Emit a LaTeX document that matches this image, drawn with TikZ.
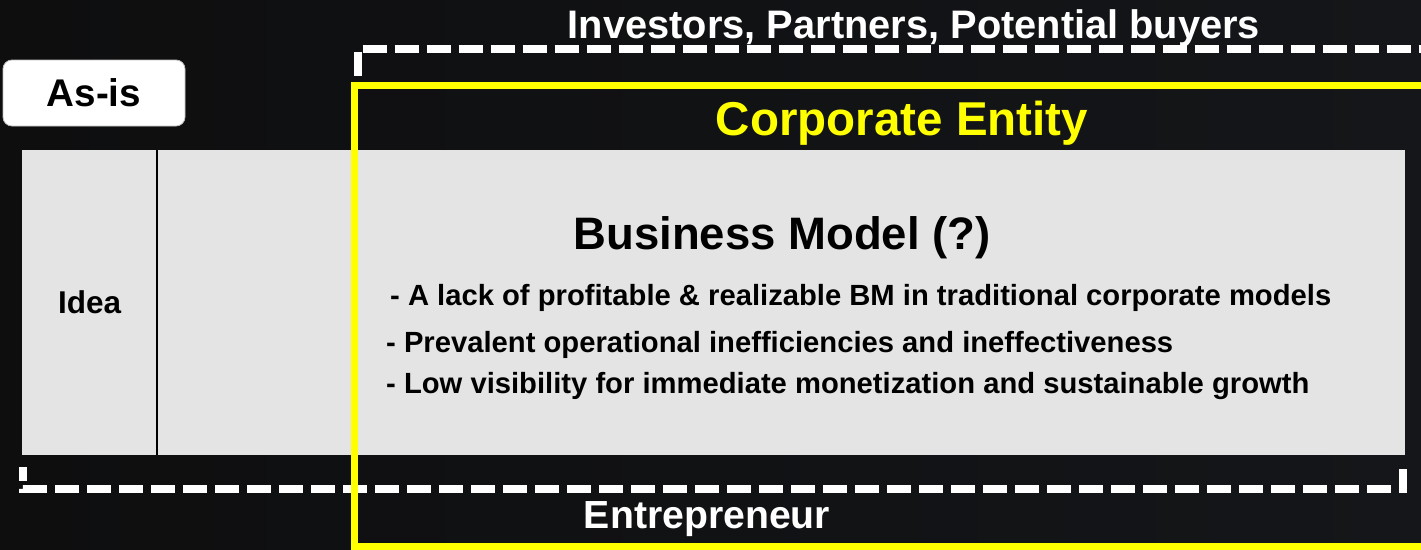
\documentclass[tikz,border=0pt]{standalone}
\usepackage{fontspec}
\setmainfont{Liberation Sans}
\usepackage{xcolor}
\usepackage{tikz}
\usetikzlibrary{
    positioning,
    calc
}
\definecolor{asisdark}{HTML}{0E0E0F}
\definecolor{asismid}{HTML}{1F2022}
\definecolor{asisnight}{HTML}{141619}
\definecolor{asisgray}{HTML}{E4E4E4}
\definecolor{asisyellow}{HTML}{FFFF00}
\tikzset{
    % Bold text at a given size
    boldtext/.style={
        font=\fontsize{#1}{#1}\selectfont\bfseries,
        inner sep=0pt,
        anchor=base
    },
    boldtext/.default=29,
    % White rounded tag
    tagbox/.style={
        rectangle,
        rounded corners=9pt,
        draw=white!75!black,
        fill=white,
        line width=0.8pt,
        minimum width=182pt,
        minimum height=66pt,
        inner sep=0pt,
        font=\fontsize{38.6}{38.6}\selectfont\bfseries
    },
    % Grey panel cell
    panelcell/.style={
        rectangle,
        fill=asisgray,
        minimum height=305pt,
        inner sep=0pt,
        anchor=north west
    },
    % Bullet line
    bulletline/.style={
        boldtext=29.2,
        anchor=base west
    },
    % Dashed group bracket
    groupdash/.style={
        draw=white,
        line width=8pt,
        dash pattern=on 24pt off 8pt
    },
    % Yellow entity frame
    entityframe/.style={
        draw=asisyellow,
        line width=7pt
    }
}

\begin{document}
\begin{tikzpicture}[x=1pt, y=-1pt]
    \useasboundingbox (0,0) rectangle (1421,549);
    \shade[left color=asisdark, middle color=asismid, right color=asisnight] (0,0) rectangle (1421,549);

    % panel
    \node[panelcell, minimum width=135pt] (ideacell) at (22,150) {};
    \node[panelcell, minimum width=1247pt] (bmcell) at (ideacell.north east) {};
    \draw[line width=2pt] (ideacell.north east) -- (ideacell.south east);

    % brackets and frame
    \draw[groupdash] (358,76) -- (358,48.5) -- (1440,48.5);
    \draw[groupdash, dash phase=10pt] (23,467) -- (23,489) -- (1403,489) -- (1403,467);
    \draw[entityframe] (354,85.5) rectangle (1440,546);

    \node[tagbox] (asis) at (94,93) {As-is};
    \node[boldtext=31.5, anchor=center] (idea) at (ideacell) {Idea};

    \node[boldtext=39.8, text=white] (stakeholders) at (914,38) {Investors, Partners, Potential buyers};
    \node[boldtext=47.5, text=asisyellow] (entity) at (902,135) {Corporate Entity};
    \node[boldtext=45.5] (bmtitle) at (782,249) {Business Model (?)};

    \node[bulletline] (gap1) at (390,305) {- A lack of profitable \& realizable BM in traditional corporate models};
    \node[bulletline] (gap2) at (386,352) {- Prevalent operational inefficiencies and ineffectiveness};
    \node[bulletline] (gap3) at (386,393) {- Low visibility for immediate monetization and sustainable growth};

    \node[boldtext=39.2, text=white] (founder) at (707,528) {Entrepreneur};
\end{tikzpicture}
\end{document}
